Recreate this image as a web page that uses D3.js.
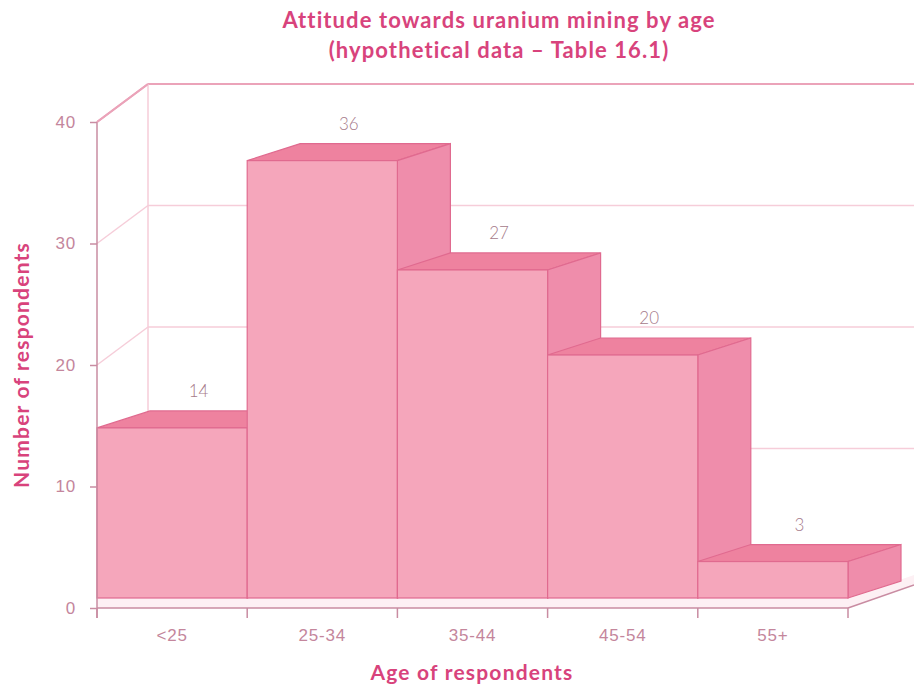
<!DOCTYPE html>
<html>
<head>
<meta charset="utf-8">
<title>Attitude towards uranium mining by age</title>
<style>
  body { margin: 0; background: #fff; }
  svg { font-family: "Lato", "Open Sans", sans-serif; }
  .tick text { fill: #c4869c; font-size: 17px; font-weight: 300; letter-spacing: 0.8px; }
  .title { fill: #d8437c; font-weight: 700; font-size: 22px; letter-spacing: 1.1px; }
  .axis-title { fill: #d8437c; font-weight: 700; font-size: 21px; letter-spacing: 1.2px; }
  .val { fill: #a67a8a; font-size: 17px; font-weight: 300; }
</style>
</head>
<body>
<script src="https://cdn.jsdelivr.net/npm/d3@7"></script>
<script>
// data
var ages = ["<25", "25-34", "35-44", "45-54", "55+"];
var counts = [14, 36, 27, 20, 3];
var yTicks = [0, 10, 20, 30, 40];
var titleLines = ["Attitude towards uranium mining by age", "(hypothetical data \u2013 Table 16.1)"];

var W = 914, H = 684;
var svg = d3.select("body").append("svg").attr("width", W).attr("height", H);

var x = d3.scaleBand().domain(ages).range([97, 848]).padding(0);
var y = d3.scaleLinear().domain([0, 40]).range([608, 122]);

// 3d offsets
var wallDx = 51, wallDy = -38;   // back wall
var barDx = 53, barDy = -17;     // bar depth
var lift = 10;                   // floor slab thickness

var pink = {
  front: "#f5a6bb",
  top: "#ee829f",
  side: "#ef8dab",
  stroke: "#e06a8f",
  grid: "#f6cdd9",
  gridDark: "#eba3b9",
  axis: "#c98ca2"
};

// back wall gridlines
yTicks.forEach(function(v) {
  if (v === 0) return;
  var col = v === 40 ? pink.gridDark : pink.grid;
  svg.append("line")
    .attr("x1", x.range()[0]).attr("y1", y(v))
    .attr("x2", x.range()[0] + wallDx).attr("y2", y(v) + wallDy)
    .attr("stroke", col).attr("stroke-width", v === 40 ? 2 : 1.5);
  svg.append("line")
    .attr("x1", x.range()[0] + wallDx).attr("y1", y(v) + wallDy)
    .attr("x2", W).attr("y2", y(v) + wallDy)
    .attr("stroke", col).attr("stroke-width", v === 40 ? 2 : 1.5);
});
svg.append("line")
  .attr("x1", x.range()[0] + wallDx).attr("y1", y(40) + wallDy)
  .attr("x2", x.range()[0] + wallDx).attr("y2", y(0) + wallDy)
  .attr("stroke", pink.grid).attr("stroke-width", 1.5);

// floor slab
var x0 = x.range()[0], x1 = x.range()[1];
var floorTop = y(0) - lift, floorBot = y(0);
svg.append("path")
  .attr("d", "M" + [x0, floorTop] + "L" + [x1, floorTop] + "L" + [x1 + 66, floorTop - 23] + "L" + [x1 + 66, floorBot - 23] + "L" + [x1, floorBot] + "L" + [x0, floorBot] + "Z")
  .attr("fill", "#fdf0f4");
svg.append("line")
  .attr("x1", x1).attr("y1", floorBot).attr("x2", x1 + 66).attr("y2", floorBot - 23)
  .attr("stroke", pink.axis).attr("stroke-width", 1.5);

// bars
var bars = svg.append("g");
ages.forEach(function(a, i) {
  var l = x(a), r = l + x.bandwidth();
  var t = y(counts[i]) - lift, b = floorTop;
  var g = bars.append("g");
  // top face
  g.append("path")
    .attr("d", "M" + [l, t] + "L" + [l + barDx, t + barDy] + "L" + [r + barDx, t + barDy] + "L" + [r, t] + "Z")
    .attr("fill", pink.top).attr("stroke", pink.stroke).attr("stroke-width", 1.2);
  // side face
  g.append("path")
    .attr("d", "M" + [r, t] + "L" + [r + barDx, t + barDy] + "L" + [r + barDx, b + barDy] + "L" + [r, b] + "Z")
    .attr("fill", pink.side).attr("stroke", pink.stroke).attr("stroke-width", 1.2);
  // front face
  g.append("rect")
    .attr("x", l).attr("y", t).attr("width", r - l).attr("height", b - t)
    .attr("fill", pink.front).attr("stroke", pink.stroke).attr("stroke-width", 1.2);
  // value label
  svg.append("text").attr("class", "val")
    .attr("x", l + x.bandwidth() / 2 + barDx * 0.5)
    .attr("y", t + barDy - 14)
    .attr("text-anchor", "middle")
    .text(counts[i]);
});

// y axis
var yAxis = svg.append("g")
  .attr("transform", "translate(" + x0 + ",0)")
  .call(d3.axisLeft(y).tickValues(yTicks).tickSize(7).tickPadding(14));
yAxis.select(".domain").remove();
yAxis.selectAll(".tick line").attr("stroke", pink.axis).attr("stroke-width", 1.5);
svg.append("line")
  .attr("x1", x0).attr("y1", y(40)).attr("x2", x0).attr("y2", y(0) + 10)
  .attr("stroke", pink.axis).attr("stroke-width", 1.5);
svg.append("line")
  .attr("x1", x0).attr("y1", y(40)).attr("x2", x0 + wallDx).attr("y2", y(40) + wallDy)
  .attr("stroke", pink.gridDark).attr("stroke-width", 2);

// x axis
var xAxis = svg.append("g")
  .attr("transform", "translate(0," + y(0) + ")")
  .call(d3.axisBottom(x).tickSize(0).tickPadding(21));
xAxis.select(".domain").remove();
svg.append("line")
  .attr("x1", x0).attr("y1", y(0)).attr("x2", x1).attr("y2", y(0))
  .attr("stroke", pink.axis).attr("stroke-width", 1.5);
var edges = ages.map(function(a) { return x(a); }).concat([x1]);
svg.selectAll(".xtick").data(edges).enter().append("line")
  .attr("x1", function(d) { return d; }).attr("x2", function(d) { return d; })
  .attr("y1", y(0)).attr("y2", y(0) + 10)
  .attr("stroke", pink.axis).attr("stroke-width", 1.5);

// titles
svg.selectAll(".title").data(titleLines).enter().append("text")
  .attr("class", "title")
  .attr("x", 499).attr("y", function(d, i) { return 28 + i * 30; })
  .attr("text-anchor", "middle")
  .text(function(d) { return d; });

svg.append("text").attr("class", "axis-title")
  .attr("x", 472).attr("y", 680).attr("text-anchor", "middle")
  .text("Age of respondents");

svg.append("text").attr("class", "axis-title")
  .attr("transform", "translate(29,365) rotate(-90)")
  .attr("text-anchor", "middle")
  .text("Number of respondents");
</script>
</body>
</html>
